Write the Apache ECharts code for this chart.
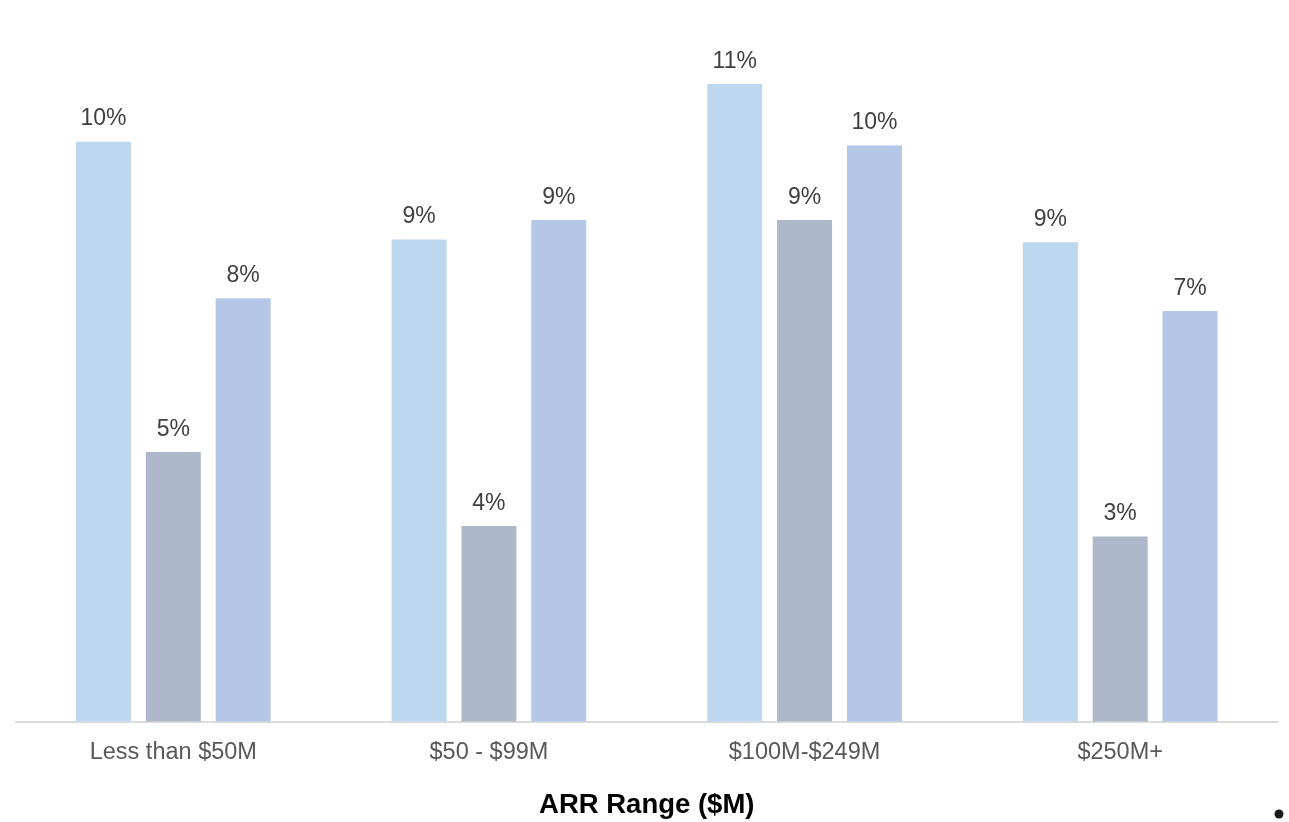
<!DOCTYPE html>
<html>
<head>
<meta charset="utf-8">
<style>
  html, body { margin: 0; padding: 0; background: #fff; }
  #chart { width: 1289px; height: 822px; }
</style>
<script src="https://cdn.jsdelivr.net/npm/echarts@6/dist/echarts.min.js"></script>
</head>
<body>
<div id="chart"></div>
<script>
// ARR ranges on the x axis
var categories = ['Less than $50M', '$50 - $99M', '$100M-$249M', '$250M+']
// three series per range (percent)
var seriesA = [10.44, 8.68, 11.48, 8.63]
var seriesB = [4.85, 3.52, 9.03, 3.33]
var seriesC = [7.62, 9.03, 10.37, 7.39]
var colors = ['#BDD7EE', '#ADB9CA', '#B4C7E7']

var chart = echarts.init(document.getElementById('chart'))

function barSeries(name, data, color) {
  return {
    name: name,
    type: 'bar',
    data: data,
    barWidth: 55,
    barGap: '27%',
    itemStyle: { color: color },
    label: {
      show: true,
      position: 'top',
      distance: 11,
      color: '#404040',
      fontSize: 23,
      fontFamily: 'Liberation Sans, Arial, sans-serif',
      formatter: function (p) {
        return Math.round(p.value) + '%'
      }
    }
  }
}

chart.setOption({
  animation: false,
  grid: {
    left: 15.5,
    right: 11,
    top: 55,
    bottom: 100.5,
    outerBoundsMode: 'none'
  },
  xAxis: {
    type: 'category',
    data: categories,
    name: 'ARR Range ($M)',
    nameLocation: 'middle',
    nameGap: 70,
    nameTextStyle: {
      color: '#000',
      fontSize: 27.5,
      fontWeight: 'bold',
      fontFamily: 'Liberation Sans, Arial, sans-serif'
    },
    axisTick: { show: false },
    axisLine: { lineStyle: { color: '#d0d0d0', width: 1.5 } },
    axisLabel: {
      color: '#595959',
      fontSize: 23.5,
      margin: 19,
      fontFamily: 'Liberation Sans, Arial, sans-serif'
    }
  },
  yAxis: {
    type: 'value',
    min: 0,
    max: 12,
    show: false,
    splitLine: { show: false }
  },
  series: [
    barSeries('Series 1', seriesA, colors[0]),
    barSeries('Series 2', seriesB, colors[1]),
    barSeries('Series 3', seriesC, colors[2])
  ],
  graphic: [{
    type: 'circle',
    shape: { cx: 1279, cy: 814, r: 4.5 },
    style: { fill: '#1a1a1a' }
  }]
})
</script>
</body>
</html>
